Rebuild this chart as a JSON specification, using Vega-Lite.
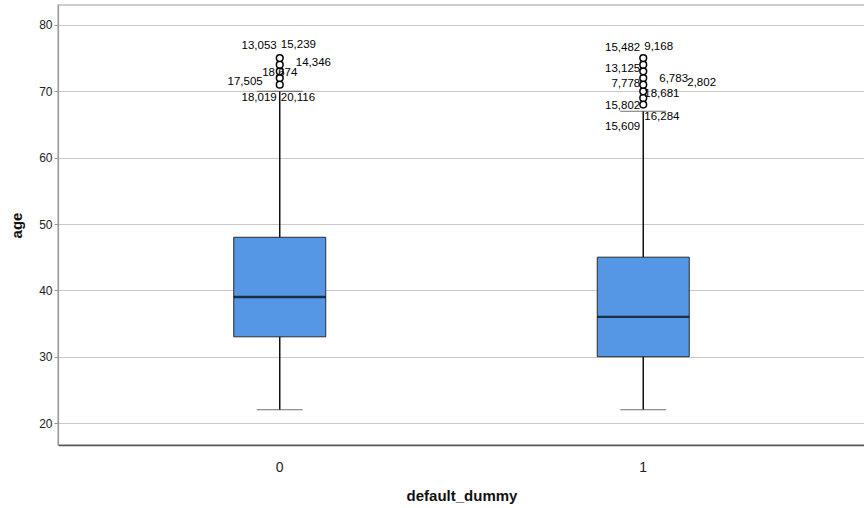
{
  "$schema": "https://vega.github.io/schema/vega-lite/v6.json",
  "width": 807,
  "height": 440,
  "autosize": {"type": "none"},
  "padding": {"left": 58, "top": 5, "right": 0, "bottom": 63},
  "background": "white",
  "config": {
    "view": {"stroke": "#bdbdbd", "strokeWidth": 1.5},
    "font": "Liberation Sans"
  },
  "datasets": {
    "summary": [
      {"default_dummy": "0", "lower": 22, "q1": 33, "median": 39, "q3": 48, "upper": 70},
      {"default_dummy": "1", "lower": 22, "q1": 30, "median": 36, "q3": 45, "upper": 67}
    ],
    "outliers": [
      {"default_dummy": "0", "age": 71},
      {"default_dummy": "0", "age": 72},
      {"default_dummy": "0", "age": 73},
      {"default_dummy": "0", "age": 74},
      {"default_dummy": "0", "age": 75},
      {"default_dummy": "1", "age": 68},
      {"default_dummy": "1", "age": 69},
      {"default_dummy": "1", "age": 70},
      {"default_dummy": "1", "age": 71},
      {"default_dummy": "1", "age": 72},
      {"default_dummy": "1", "age": 73},
      {"default_dummy": "1", "age": 74},
      {"default_dummy": "1", "age": 75}
    ],
    "labels": [
      {"default_dummy": "0", "label": "13,053", "label_age": 76.85, "pos": "left"},
      {"default_dummy": "0", "label": "15,239", "label_age": 77.0, "pos": "right"},
      {"default_dummy": "0", "label": "14,346", "label_age": 74.3, "pos": "right2"},
      {"default_dummy": "0", "label": "18,674", "label_age": 72.8, "pos": "center"},
      {"default_dummy": "0", "label": "17,505", "label_age": 71.4, "pos": "left2"},
      {"default_dummy": "0", "label": "18,019", "label_age": 69.0, "pos": "left"},
      {"default_dummy": "0", "label": "20,116", "label_age": 69.0, "pos": "right"},
      {"default_dummy": "1", "label": "15,482", "label_age": 76.55, "pos": "left"},
      {"default_dummy": "1", "label": "9,168", "label_age": 76.7, "pos": "right"},
      {"default_dummy": "1", "label": "13,125", "label_age": 73.4, "pos": "left"},
      {"default_dummy": "1", "label": "7,778", "label_age": 71.1, "pos": "left"},
      {"default_dummy": "1", "label": "6,783", "label_age": 71.9, "pos": "right2"},
      {"default_dummy": "1", "label": "2,802", "label_age": 71.3, "pos": "right3"},
      {"default_dummy": "1", "label": "18,681", "label_age": 69.6, "pos": "right"},
      {"default_dummy": "1", "label": "15,802", "label_age": 67.8, "pos": "left"},
      {"default_dummy": "1", "label": "16,284", "label_age": 66.15, "pos": "right"},
      {"default_dummy": "1", "label": "15,609", "label_age": 64.65, "pos": "left"}
    ]
  },
  "encoding": {
    "x": {
      "field": "default_dummy",
      "type": "nominal",
      "scale": {"domain": ["0", "1"], "paddingInner": 0, "paddingOuter": 0.11},
      "axis": {
        "title": "default_dummy",
        "labelAngle": 0,
        "ticks": false,
        "grid": false,
        "domainColor": "#555555",
        "domainWidth": 1.5,
        "labelFontSize": 14,
        "labelColor": "#222222",
        "labelPadding": 15,
        "titleFontSize": 15,
        "titleFontWeight": "bold",
        "titleColor": "#111111",
        "titleY": 43
      }
    }
  },
  "layer": [
    {
      "data": {"name": "summary"},
      "mark": {"type": "rule", "color": "#111111", "strokeWidth": 1.5},
      "encoding": {
        "y": {
          "field": "lower",
          "type": "quantitative",
          "scale": {"domain": [16.7, 83.0], "nice": false, "zero": false},
          "axis": {
            "title": "age",
            "values": [20, 30, 40, 50, 60, 70, 80],
            "grid": true,
            "gridColor": "#cacaca",
            "gridWidth": 1.2,
            "domainColor": "#999999",
            "domainWidth": 1.2,
            "tickColor": "#999999",
            "tickSize": 4,
            "labelFontSize": 12,
            "labelColor": "#222222",
            "labelPadding": 2,
            "titleFontSize": 15,
            "titleFontWeight": "bold",
            "titleColor": "#111111",
            "titleX": -34
          }
        },
        "y2": {"field": "upper"}
      }
    },
    {
      "data": {"name": "summary"},
      "mark": {"type": "tick", "color": "#333333", "size": 46, "thickness": 1},
      "encoding": {"y": {"field": "lower", "type": "quantitative"}}
    },
    {
      "data": {"name": "summary"},
      "mark": {"type": "tick", "color": "#333333", "size": 46, "thickness": 1},
      "encoding": {"y": {"field": "upper", "type": "quantitative"}}
    },
    {
      "data": {"name": "summary"},
      "mark": {"type": "bar", "size": 92, "fill": "#5596e5", "stroke": "#2b2b2b", "strokeWidth": 1},
      "encoding": {
        "y": {"field": "q1", "type": "quantitative"},
        "y2": {"field": "q3"}
      }
    },
    {
      "data": {"name": "summary"},
      "mark": {"type": "tick", "color": "#000000", "size": 92, "thickness": 2.4},
      "encoding": {"y": {"field": "median", "type": "quantitative"}}
    },
    {
      "data": {"name": "outliers"},
      "mark": {"type": "point", "shape": "circle", "filled": true, "fill": "white", "stroke": "#000000", "strokeWidth": 1.5, "size": 45, "opacity": 1},
      "encoding": {"y": {"field": "age", "type": "quantitative"}}
    },
    {
      "data": {"name": "labels"},
      "transform": [{"filter": "datum.pos === 'left'"}],
      "mark": {"type": "text", "align": "right", "baseline": "middle", "dx": -3, "fontSize": 11.5, "color": "#000000"},
      "encoding": {"y": {"field": "label_age", "type": "quantitative"}, "text": {"field": "label"}}
    },
    {
      "data": {"name": "labels"},
      "transform": [{"filter": "datum.pos === 'left2'"}],
      "mark": {"type": "text", "align": "right", "baseline": "middle", "dx": -17, "fontSize": 11.5, "color": "#000000"},
      "encoding": {"y": {"field": "label_age", "type": "quantitative"}, "text": {"field": "label"}}
    },
    {
      "data": {"name": "labels"},
      "transform": [{"filter": "datum.pos === 'right'"}],
      "mark": {"type": "text", "align": "left", "baseline": "middle", "dx": 1, "fontSize": 11.5, "color": "#000000"},
      "encoding": {"y": {"field": "label_age", "type": "quantitative"}, "text": {"field": "label"}}
    },
    {
      "data": {"name": "labels"},
      "transform": [{"filter": "datum.pos === 'right2'"}],
      "mark": {"type": "text", "align": "left", "baseline": "middle", "dx": 16, "fontSize": 11.5, "color": "#000000"},
      "encoding": {"y": {"field": "label_age", "type": "quantitative"}, "text": {"field": "label"}}
    },
    {
      "data": {"name": "labels"},
      "transform": [{"filter": "datum.pos === 'right3'"}],
      "mark": {"type": "text", "align": "left", "baseline": "middle", "dx": 44, "fontSize": 11.5, "color": "#000000"},
      "encoding": {"y": {"field": "label_age", "type": "quantitative"}, "text": {"field": "label"}}
    },
    {
      "data": {"name": "labels"},
      "transform": [{"filter": "datum.pos === 'center'"}],
      "mark": {"type": "text", "align": "center", "baseline": "middle", "dx": 0, "fontSize": 11.5, "color": "#000000"},
      "encoding": {"y": {"field": "label_age", "type": "quantitative"}, "text": {"field": "label"}}
    }
  ]
}
